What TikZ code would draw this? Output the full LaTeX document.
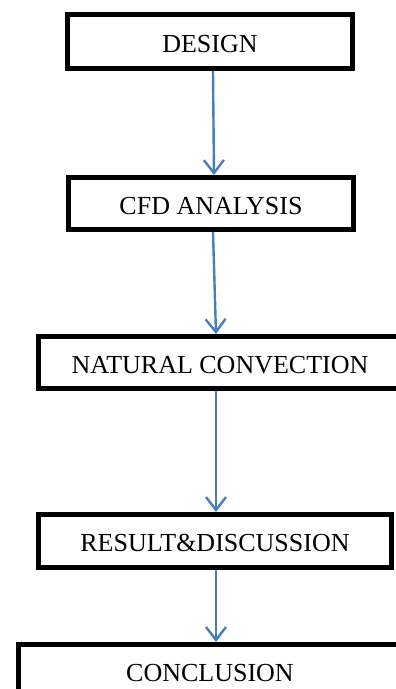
\documentclass[tikz,border=0pt]{standalone}
\usepackage{fontspec}
\setmainfont{Liberation Serif}
\usetikzlibrary{arrows.meta}
\definecolor{freccia}{RGB}{74,126,187}

\begin{document}
\begin{tikzpicture}[x=1pt,y=-1pt,font=\fontsize{26}{30}\selectfont,
  blocco/.style={draw, line width=5pt, fill=white, inner sep=0pt, text height=21pt, text depth=0pt},
  flusso/.style={draw=freccia, line width=2.4pt, -{Straight Barb[length=13pt,width=20pt]}}]

\useasboundingbox (0,0) rectangle (396,689);

\node[blocco, minimum width=285, minimum height=54] (design) at (210,41.5) {DESIGN};
\node[blocco, minimum width=285, minimum height=52] (cfd) at (211,203.5) {CFD ANALYSIS};
\node[blocco, minimum width=363, minimum height=52] (natural) at (220,362.5) {NATURAL CONVECTION};
\node[blocco, minimum width=353, minimum height=53] (result) at (215,541) {RESULT\&DISCUSSION};
\node[blocco, minimum width=383, minimum height=53] (conclusion) at (210,671) {CONCLUSION};

\draw[flusso] ([xshift=3]design.south) -- ([xshift=3]cfd.north);
\draw[flusso] ([xshift=2]cfd.south) -- ([xshift=-4]natural.north);
\draw[flusso] ([xshift=-4]natural.south) -- ([xshift=1]result.north);
\draw[flusso] ([xshift=1]result.south) -- ([xshift=6]conclusion.north);

\end{tikzpicture}
\end{document}
